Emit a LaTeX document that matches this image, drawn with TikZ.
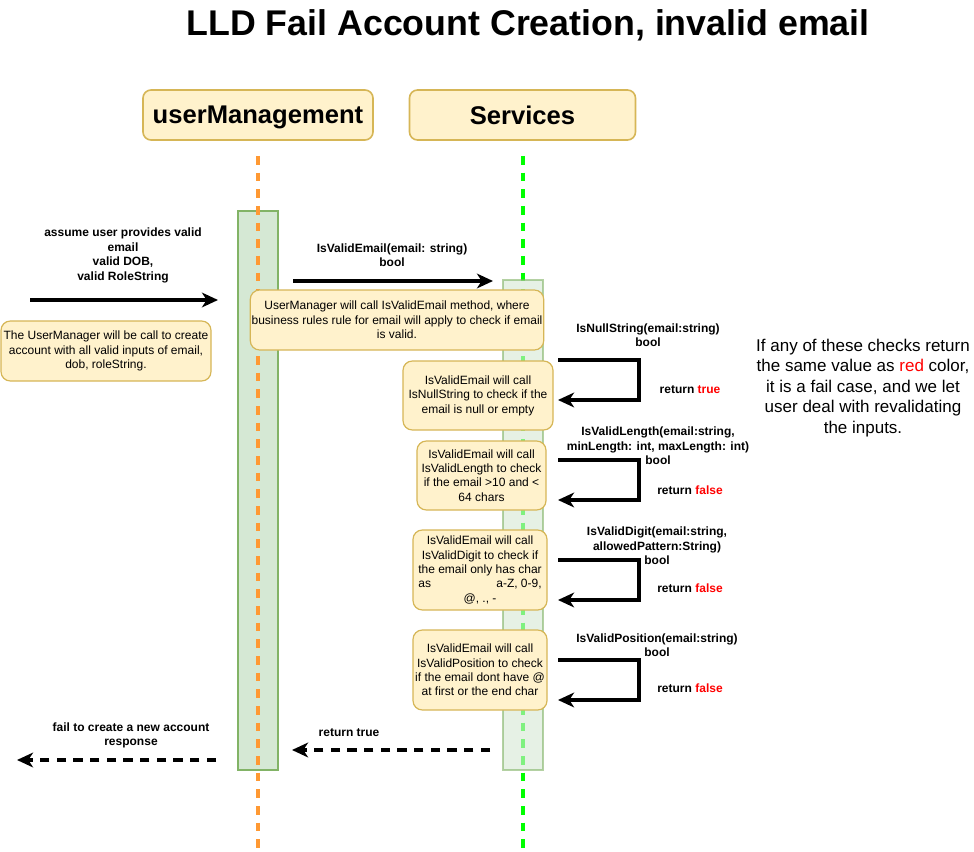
\documentclass[tikz,border=0pt]{standalone}
\usepackage{fontspec}
\setmainfont{Liberation Sans}
\usetikzlibrary{positioning, arrows.meta}
\definecolor{noteFill}{HTML}{FFF2CC}
\definecolor{noteDraw}{HTML}{D6B656}
\definecolor{actFill}{HTML}{D5E8D4}
\definecolor{actDraw}{HTML}{82B366}
\definecolor{lifeOrange}{HTML}{FF9933}
\definecolor{lifeGreen}{HTML}{00FF00}
\tikzset{
>={Stealth[length=12pt, width=11pt, inset=3.5pt]}, % bold arrow heads
call/.style={->, line width=2.4pt}, % a call between lifelines
reply/.style={->, line width=2.4pt, dash pattern=on 7pt off 5.5pt}, % a dashed return
lifeline/.style={line width=2.6pt, dash pattern=on 6.5pt off 6pt},
actor/.style={draw=noteDraw, fill=noteFill, line width=1.2pt, rounded corners=6pt, font=\bfseries\fontsize{19.2}{23}\selectfont},
act/.style={draw=actDraw, fill=actFill, line width=0.8pt},
note/.style={draw=noteDraw, fill=noteFill, line width=0.9pt, rounded corners=7pt, align=center, inner sep=1pt, font=\fontsize{9}{10.8}\selectfont},
msg/.style={align=center, font=\bfseries\fontsize{9}{10.8}\selectfont},
boxsize/.style 2 args={minimum width=#1*0.75pt, minimum height=#2*0.75pt},
}

\begin{document}
\begin{tikzpicture}[x=0.75pt, y=-0.75pt]
\useasboundingbox (0,0) rectangle (974,852);

\node[font=\bfseries\fontsize{26.8}{32}\selectfont] (title) at (528,25) {LLD Fail Account Creation, invalid email};

\node[actor, boxsize={230}{50}, text depth=0pt] (userHead) at (258,115) {userManagement};
\node[actor, boxsize={226}{50}, text depth=0pt] (svcHead) at (522.5,115) {Services};

% lifelines and activations
\node[act, boxsize={40}{559}] (actUser) at (258,490.5) {};
\coordinate (userTop) at (258,156);
\coordinate (userBot) at (258,852);
\coordinate (svcTop) at (523,156);
\coordinate (svcBot) at (523,852);
\draw[lifeline, draw=lifeOrange] (userTop) -- (userBot);
\draw[lifeline, draw=lifeGreen] (svcTop) -- (svcBot);
\node[act, fill opacity=0.6, draw opacity=0.6, boxsize={40}{490}] (actSvc) at (523,525) {};

% notes
\node[note, boxsize={210}{60}] (noteUser) at (106,351) {The UserManager will be call to create\\account with all valid inputs of email,\\dob, roleString.};
\node[note, boxsize={292}{60}] (noteEmail) at (397,320) {UserManager will call IsValidEmail method, where\\business rules rule for email will apply to check if email\\is valid.};
\node[note, boxsize={150}{69}] (noteNull) at (478,395.5) {IsValidEmail will call\\IsNullString to check if the\\email is null or empty};
\node[note, boxsize={129}{69}] (noteLength) at (481.5,475.5) {IsValidEmail will call\\IsValidLength to check\\if the email >10 and <\\64 chars};
\node[note, boxsize={134}{80}] (noteDigit) at (480,570) {IsValidEmail will call\\IsValidDigit to check if\\the email only has char\\as\hspace{49pt}a-Z, 0-9,\\@, ., -};
\node[note, boxsize={134}{80}] (notePos) at (480,670) {IsValidEmail will call\\IsValidPosition to check\\if the email dont have @\\at first or the end char};

% calls
\coordinate (assumeS) at (30,300);
\coordinate (assumeE) at (218,300);
\coordinate (emailS) at (293,281);
\coordinate (emailE) at (493,281);
\draw[call] (assumeS) -- (assumeE);
\draw[call] (emailS) -- (emailE);
\foreach \y/\n in {360/null, 460/length, 560/digit, 660/pos} {
  \coordinate (\n S) at (558,\y);
  \coordinate (\n E) at (558,\y+40);
  \draw[call] (\n S) -- ++(81,0) |- (\n E);
}

% returns
\coordinate (retS) at (490,750);
\coordinate (retE) at (292,750);
\coordinate (failS) at (216,760);
\coordinate (failE) at (17,760);
\draw[reply] (retS) -- (retE);
\draw[reply] (failS) -- (failE);

% message labels
\node[msg] (msgAssume) at (123,255.5) {assume user provides valid\\email\\valid DOB,\\valid RoleString};
\node[msg] (msgEmail) at (392,255.5) {IsValidEmail(email: string)\\bool};
\node[msg] (msgNull) at (648,335.5) {IsNullString(email:string)\\bool};
\node[msg] (retNull) at (690,390) {return \textcolor{red}{true}};
\node[msg] (msgLength) at (658,446) {IsValidLength(email:string,\\minLength: int, maxLength: int)\\bool};
\node[msg] (retLength) at (690,490) {return \textcolor{red}{false}};
\node[msg] (msgDigit) at (657,546) {IsValidDigit(email:string,\\allowedPattern:String)\\bool};
\node[msg] (retDigit) at (690,588) {return \textcolor{red}{false}};
\node[msg] (msgPos) at (657,645.5) {IsValidPosition(email:string)\\bool};
\node[msg] (retPos) at (690,688) {return \textcolor{red}{false}};
\node[msg] (msgRet) at (349,733) {return true};
\node[msg] (msgFail) at (131,735.5) {fail to create a new account\\response};

\node[align=center, font=\fontsize{12.75}{15.3}\selectfont] (sideNote) at (863,388) {If any of these checks return\\the same value as \textcolor{red}{red} color,\\it is a fail case, and we let\\user deal with revalidating\\the inputs.};
\end{tikzpicture}
\end{document}
